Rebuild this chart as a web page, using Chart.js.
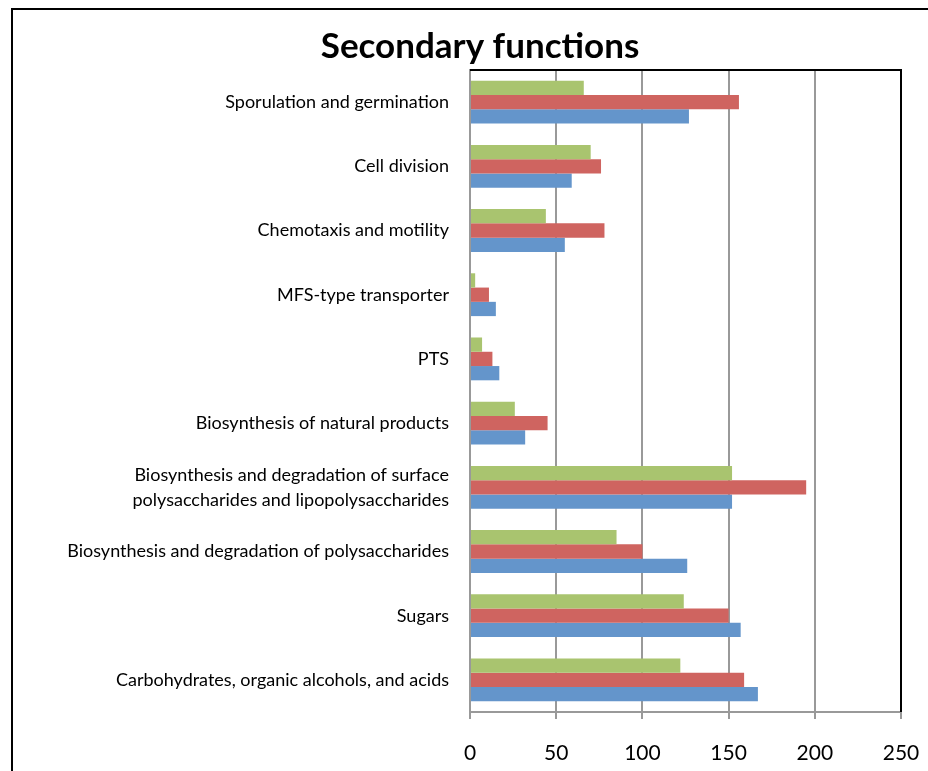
<!DOCTYPE html>
<html>
<head>
<meta charset="utf-8">
<script src="https://cdn.jsdelivr.net/npm/chart.js@4"></script>
<style>
  html, body { margin: 0; padding: 0; background: #fff; overflow: hidden; }
  #wrap { width: 928px; height: 771px; position: relative; }
  canvas { display: block; }
</style>
</head>
<body>
<div id="wrap"><canvas id="secondaryChart"></canvas></div>
<script>
/*************************************************
 * DATA
 *************************************************/
const categories = [
  "Sporulation and germination",
  "Cell division",
  "Chemotaxis and motility",
  "MFS-type transporter",
  "PTS",
  "Biosynthesis of natural products",
  ["Biosynthesis and degradation of surface", "polysaccharides and lipopolysaccharides"],
  "Biosynthesis and degradation of polysaccharides",
  "Sugars",
  "Carbohydrates, organic alcohols, and acids"
];

// top bar of each group
const greenValues = [66, 70, 44, 3, 7, 26, 152, 85, 124, 122];
// middle bar
const redValues = [156, 76, 78, 11, 13, 45, 195, 100, 150, 159];
// bottom bar
const blueValues = [127, 59, 55, 15, 17, 32, 152, 126, 157, 167];

const xTicks = [0, 50, 100, 150, 200, 250];


/*************************************************
 * FRAME PLUGIN (outer border + plot box top/right)
 *************************************************/
const framePlugin = {
  id: "frame",
  beforeDraw(chart) {
    const ctx = chart.ctx;
    ctx.save();
    ctx.fillStyle = "#fff";
    ctx.fillRect(0, 0, chart.width, chart.height);
    ctx.strokeStyle = "#000";
    ctx.lineWidth = 2;
    ctx.beginPath();
    ctx.moveTo(12, chart.height);
    ctx.lineTo(12, 9);
    ctx.lineTo(chart.width, 9);
    ctx.stroke();
    ctx.restore();
  },
  afterDraw(chart) {
    const { ctx, chartArea } = chart;
    ctx.save();
    ctx.strokeStyle = "#000";
    ctx.lineWidth = 2;
    ctx.beginPath();
    ctx.moveTo(chartArea.left, chartArea.top);
    ctx.lineTo(chartArea.right, chartArea.top);
    ctx.lineTo(chartArea.right, chartArea.bottom);
    ctx.stroke();
    ctx.restore();
  }
};


/*************************************************
 * CHART
 *************************************************/
const ctx = document.getElementById("secondaryChart").getContext("2d");

new Chart(ctx, {
  type: "bar",
  data: {
    labels: categories,
    datasets: [
      { data: greenValues, backgroundColor: "#a9c46f" },
      { data: redValues, backgroundColor: "#cf6460" },
      { data: blueValues, backgroundColor: "#6495cb" }
    ]
  },
  options: {
    indexAxis: "y",
    responsive: true,
    maintainAspectRatio: false,
    animation: false,
    layout: { padding: { left: 59, right: 27, top: 0, bottom: 0 } },
    datasets: {
      bar: { categoryPercentage: 0.667, barPercentage: 1.0 }
    },
    plugins: {
      legend: { display: false },
      tooltip: { enabled: false },
      title: {
        display: true,
        text: "Secondary functions",
        color: "#000",
        font: { family: "Lato", size: 35, weight: "bold", lineHeight: 1.2 },
        padding: { top: 26, bottom: 2 }
      }
    },
    scales: {
      x: {
        min: 0,
        max: 250,
        afterBuildTicks: axis => {
          axis.ticks = xTicks.map(v => ({ value: v }));
        },
        afterFit: axis => {
          axis.height = 59;
          axis.paddingLeft = 0;
          axis.paddingRight = 0;
        },
        grid: {
          color: "#999",
          lineWidth: 2,
          tickLength: 7,
          tickColor: "#999"
        },
        border: { color: "#999", width: 2 },
        ticks: {
          color: "#000",
          padding: 22,
          maxRotation: 0,
          font: { family: "Lato", size: 21 }
        }
      },
      y: {
        afterFit: axis => { axis.width = 411; },
        grid: { display: false, drawTicks: false },
        border: { color: "#999", width: 2 },
        ticks: {
          color: "#000",
          padding: 21,
          autoSkip: false,
          font: { family: "Lato", size: 18, lineHeight: 1.4 }
        }
      }
    }
  },
  plugins: [framePlugin]
});
</script>
</body>
</html>
